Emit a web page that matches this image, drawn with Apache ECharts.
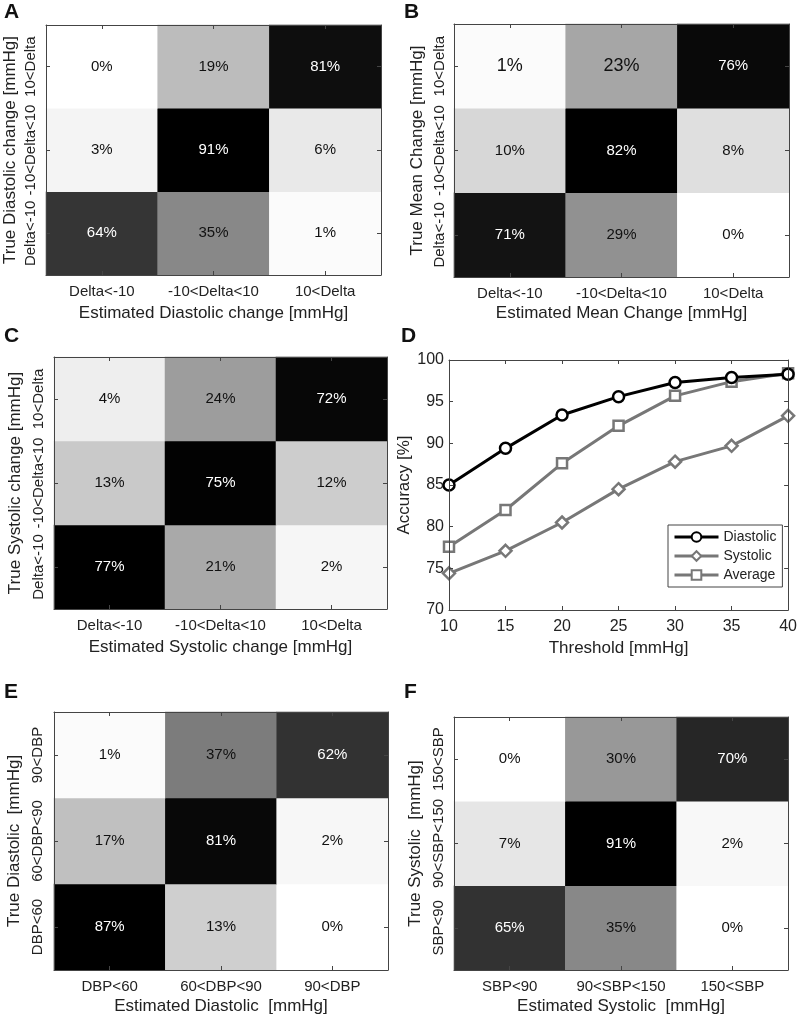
<!DOCTYPE html>
<html>
<head>
<meta charset="utf-8">
<script src="https://cdn.jsdelivr.net/npm/echarts@6/dist/echarts.min.js"></script>
<style>
html,body{margin:0;padding:0;background:#fff}
#main{width:800px;height:1017px}
</style>
</head>
<body>
<div id="main"></div>
<script>
// category labels
var deltaCats = ['Delta<-10', '-10<Delta<10', '10<Delta'];
var dbpCats = ['DBP<60', '60<DBP<90', '90<DBP'];
var sbpCats = ['SBP<90', '90<SBP<150', '150<SBP'];

// confusion matrices, rows = true class (bottom -> top), cols = estimated class
var diaChange = [[64, 35, 1], [3, 91, 6], [0, 19, 81]];
var meanChange = [[71, 29, 0], [10, 82, 8], [1, 23, 76]];
var sysChange = [[77, 21, 2], [13, 75, 12], [4, 24, 72]];
var diaLevel = [[87, 13, 0], [17, 81, 2], [1, 37, 62]];
var sysLevel = [[65, 35, 0], [7, 91, 2], [0, 30, 70]];

// accuracy vs threshold (panel D)
var thresholds = [10, 15, 20, 25, 30, 35, 40];
var accDiastolic = [85.0, 89.4, 93.4, 95.6, 97.3, 97.9, 98.3];
var accSystolic = [74.4, 77.1, 80.5, 84.5, 87.8, 89.7, 93.3];
var accAverage = [77.6, 82.0, 87.6, 92.1, 95.7, 97.4, 98.4];

var FONT = '"Liberation Sans", Arial, Helvetica, sans-serif';
var AX = '#444';
var TXT = '#222';

// matlab-ish inverted gray map
function grayOf(v, max) {
	var g = Math.round(255 * Math.pow(1 - v / max, 1.3));
	return 'rgb(' + g + ',' + g + ',' + g + ')';
}

var panels = [
	{letter: 'A', lx: 4, ly: 2, grid: {left: 46, top: 25, width: 335, height: 250}, cats: deltaCats, m: diaChange,
		xName: 'Estimated Diastolic change [mmHg]', yName: 'True Diastolic change [mmHg]', xGap: 30, yGap: 27, yMargin: 8},
	{letter: 'B', lx: 404, ly: 2, grid: {left: 454, top: 24, width: 335, height: 253}, cats: deltaCats, m: meanChange,
		xName: 'Estimated Mean Change [mmHg]', yName: 'True Mean Change [mmHg]', xGap: 28, yGap: 28, yMargin: 7, big: [[2, 0], [2, 1]]},
	{letter: 'C', lx: 4, ly: 326, grid: {left: 54, top: 357, width: 333, height: 252}, cats: deltaCats, m: sysChange,
		xName: 'Estimated Systolic change [mmHg]', yName: 'True Systolic change [mmHg]', xGap: 30, yGap: 30, yMargin: 8},
	{letter: 'E', lx: 4, ly: 682, grid: {left: 54, top: 712, width: 334, height: 258}, cats: dbpCats, m: diaLevel,
		xName: 'Estimated Diastolic  [mmHg]', yName: 'True Diastolic  [mmHg]', xGap: 28, yGap: 31, yMargin: 9},
	{letter: 'F', lx: 404, ly: 682, grid: {left: 454, top: 717, width: 334, height: 253}, cats: sbpCats, m: sysLevel,
		xName: 'Estimated Systolic  [mmHg]', yName: 'True Systolic  [mmHg]', xGap: 28, yGap: 30, yMargin: 8}
];

var grids = [], xAxes = [], yAxes = [], series = [], graphics = [];

function boxAxis(base, extra) {
	var o = {
		z: 10,
		axisLine: {show: true, lineStyle: {color: AX, width: 1}},
		axisTick: {show: true, inside: true, length: 4, lineStyle: {color: AX}},
		splitLine: {show: false},
		axisLabel: {show: false}
	};
	for (var k in base) o[k] = base[k];
	for (var k2 in extra) o[k2] = extra[k2];
	return o;
}

panels.forEach(function (p, gi) {
	grids.push(p.grid);
	var max = 0;
	p.m.forEach(function (r) { r.forEach(function (v) { if (v > max) max = v; }); });
	var xi = xAxes.length, yi = yAxes.length;
	var tick = {show: true, inside: true, length: 4, alignWithLabel: true, lineStyle: {color: AX}};
	xAxes.push(boxAxis({type: 'category', data: p.cats, gridIndex: gi, position: 'bottom'}, {
		axisTick: tick,
		axisLabel: {show: true, interval: 0, color: TXT, fontSize: 15, margin: 9, fontFamily: FONT},
		name: p.xName, nameLocation: 'middle', nameGap: p.xGap,
		nameTextStyle: {color: TXT, fontSize: 17, fontFamily: FONT}
	}));
	xAxes.push(boxAxis({type: 'category', data: p.cats, gridIndex: gi, position: 'top'}, {axisTick: tick}));
	yAxes.push(boxAxis({type: 'category', data: p.cats, gridIndex: gi, position: 'left'}, {
		axisTick: tick,
		axisLabel: {show: true, interval: 0, rotate: 90, color: TXT, fontSize: 15, margin: p.yMargin, fontFamily: FONT},
		name: p.yName, nameLocation: 'middle', nameGap: p.yGap,
		nameTextStyle: {color: TXT, fontSize: 17, fontFamily: FONT}
	}));
	yAxes.push(boxAxis({type: 'category', data: p.cats, gridIndex: gi, position: 'right'}, {axisTick: tick}));

	var data = [];
	for (var i = 0; i < p.m.length; i++) {
		for (var j = 0; j < p.m[i].length; j++) {
			var v = p.m[i][j];
			var big = (p.big || []).some(function (b) { return b[0] === i && b[1] === j; });
			data.push({
				value: [j, i, v],
				itemStyle: {color: grayOf(v, max)},
				label: {color: v / max > 0.5 ? '#fff' : '#111', fontSize: big ? 18 : 15}
			});
		}
	}
	series.push({
		type: 'heatmap',
		xAxisIndex: xi,
		yAxisIndex: yi,
		data: data,
		itemStyle: {borderWidth: 0},
		label: {show: true, fontFamily: FONT, formatter: function (pr) { return pr.value[2] + '%'; }},
		emphasis: {disabled: true}
	});
	graphics.push({type: 'text', left: p.lx, top: p.ly,
		style: {text: p.letter, font: 'bold 21px ' + FONT, fill: '#111'}});
});

// panel D: line chart
var gD = grids.length;
grids.push({left: 449, top: 360, width: 348, height: 250});
var xD = xAxes.length, yD = yAxes.length;
xAxes.push(boxAxis({type: 'value', gridIndex: gD, position: 'bottom', min: 10, max: 40, interval: 5}, {
	axisLabel: {show: true, color: TXT, fontSize: 16, margin: 9, fontFamily: FONT},
	name: 'Threshold [mmHg]', nameLocation: 'middle', nameGap: 30,
	nameTextStyle: {color: TXT, fontSize: 17, fontFamily: FONT}
}));
xAxes.push(boxAxis({type: 'value', gridIndex: gD, position: 'top', min: 10, max: 40, interval: 5}, {}));
yAxes.push(boxAxis({type: 'value', gridIndex: gD, position: 'left', min: 70, max: 100, interval: 5}, {
	axisLabel: {show: true, color: TXT, fontSize: 16, margin: 5, fontFamily: FONT},
	name: 'Accuracy [%]', nameLocation: 'middle', nameGap: 36,
	nameTextStyle: {color: TXT, fontSize: 17, fontFamily: FONT}
}));
yAxes.push(boxAxis({type: 'value', gridIndex: gD, position: 'right', min: 70, max: 100, interval: 5}, {}));

function pairs(ys) {
	return thresholds.map(function (t, i) { return [t, ys[i]]; });
}
function lineSeries(name, ys, color, symbol, size) {
	return {
		name: name, type: 'line', xAxisIndex: xD, yAxisIndex: yD,
		data: pairs(ys),
		symbol: symbol, symbolSize: size, showAllSymbol: true,
		lineStyle: {color: color, width: 3},
		itemStyle: {color: '#fff', borderColor: color, borderWidth: 2.5},
		emphasis: {disabled: true},
		z: name === 'Diastolic' ? 5 : 3
	};
}
series.push(lineSeries('Diastolic', accDiastolic, '#000', 'circle', 11));
series.push(lineSeries('Systolic', accSystolic, '#777', 'diamond', 12));
series.push(lineSeries('Average', accAverage, '#777', 'rect', 10));

graphics.push({type: 'text', left: 401, top: 326, style: {text: 'D', font: 'bold 21px ' + FONT, fill: '#111'}});

var chart = echarts.init(document.getElementById('main'), null, {renderer: 'canvas'});
chart.setOption({
	animation: false,
	backgroundColor: '#fff',
	textStyle: {fontFamily: FONT},
	grid: grids,
	xAxis: xAxes,
	yAxis: yAxes,
	legend: {
		data: ['Diastolic', 'Systolic', 'Average'],
		orient: 'vertical',
		left: 668, top: 525,
		backgroundColor: '#fff',
		borderColor: AX, borderWidth: 1,
		padding: [5, 6, 5, 5],
		itemWidth: 44, itemHeight: 12, itemGap: 5,
		lineStyle: {width: 3},
		textStyle: {color: TXT, fontSize: 14, fontFamily: FONT}
	},
	series: series,
	graphic: graphics
});
</script>
</body>
</html>
